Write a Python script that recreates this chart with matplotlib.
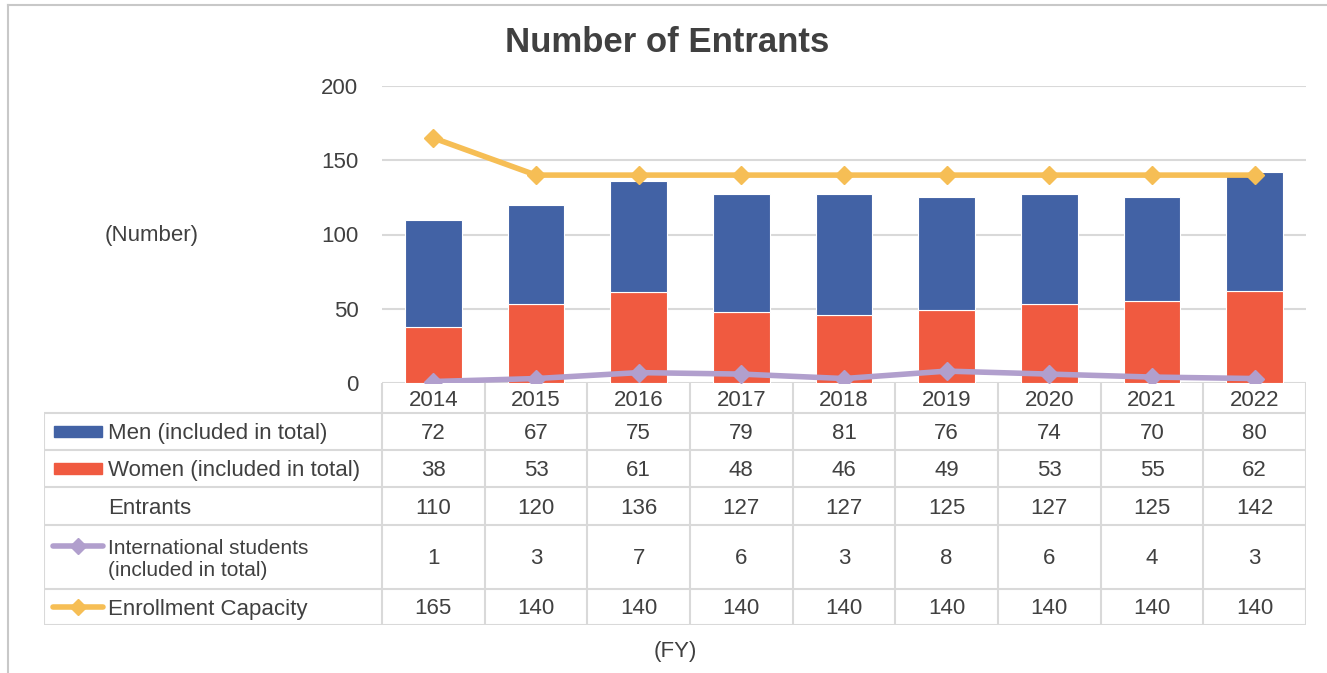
import matplotlib
matplotlib.use('Agg')
import matplotlib.pyplot as plt
from matplotlib.lines import Line2D
from matplotlib.patches import Rectangle

# ── data ─────────────────────────────────────────────────────────────────────
years = ['2014', '2015', '2016', '2017', '2018', '2019', '2020', '2021', '2022']
men = [72, 67, 75, 79, 81, 76, 74, 70, 80]
women = [38, 53, 61, 48, 46, 49, 53, 55, 62]
entrants = [110, 120, 136, 127, 127, 125, 127, 125, 142]
international = [1, 3, 7, 6, 3, 8, 6, 4, 3]
capacity = [165, 140, 140, 140, 140, 140, 140, 140, 140]
y_ticks = [0, 50, 100, 150, 200]

# ── palette ──────────────────────────────────────────────────────────────────
C_MEN = '#4262A5'
C_WOMEN = '#F05A40'
C_INTL = '#B19FCD'
C_CAP = '#F6BE55'
C_GRID = '#D9D9D9'
C_TEXT = '#404040'

FS = 16

plt.rcParams['font.family'] = ['Liberation Sans', 'DejaVu Sans']

W, H = 1327, 673
fig = plt.figure(figsize=(W / 100, H / 100), dpi=100)


def fx(px):
    return px / W


def fy(py):
    return 1 - py / H


# outer frame (top and left only)
fig.add_artist(Line2D([fx(8), 1], [fy(5), fy(5)], color='#C8C8C8', lw=1.5))
fig.add_artist(Line2D([fx(8), fx(8)], [fy(5), 0], color='#C8C8C8', lw=1.5))

# ── chart ────────────────────────────────────────────────────────────────────
left, right, top, bottom = 382, 1306, 86, 383
ax = fig.add_axes([fx(left), fy(bottom), fx(right) - fx(left), fy(top) - fy(bottom)])
x = range(len(years))
ax.bar(x, women, width=0.55, color=C_WOMEN, edgecolor='white', lw=0.8, zorder=2)
ax.bar(x, men, width=0.55, bottom=women, color=C_MEN, edgecolor='white', lw=0.8, zorder=2)
ax.plot(x, international, color=C_INTL, lw=4, marker='D', ms=9, zorder=3)
ax.plot(x, capacity, color=C_CAP, lw=4, marker='D', ms=9, zorder=3)

ax.set_xlim(-0.5, len(years) - 0.5)
ax.set_ylim(0, 200)
ax.set_yticks(y_ticks)
ax.grid(axis='y', color=C_GRID, lw=1.5, zorder=0)
ax.set_xticks([])
for s in ax.spines.values():
    s.set_visible(False)
ax.tick_params(axis='y', length=0, pad=17, labelsize=FS, labelcolor=C_TEXT)

fig.text(fx(667), fy(42), 'Number of Entrants', ha='center', va='center',
         fontsize=25, fontweight='bold', color=C_TEXT)
fig.text(fx(152), fy(236), '(Number)', ha='center', va='center', fontsize=FS, color=C_TEXT)
fig.text(fx(675), fy(651), '(FY)', ha='center', va='center', fontsize=FS, color=C_TEXT)

# ── data table ───────────────────────────────────────────────────────────────
tl, tr, tb = 44, 1306, 625
rows = [383, 413, 450, 487, 525, 589, 625]
tab = fig.add_axes([fx(tl), fy(tb), fx(tr) - fx(tl), fy(bottom) - fy(tb)])
tab.set_xlim(tl, tr)
tab.set_ylim(tb, bottom)
tab.axis('off')

col_w = (right - left) / len(years)
lc = dict(color=C_GRID, lw=1.5, solid_capstyle='butt')

# grid lines
for r in rows[1:]:
    tab.plot([tl, tr], [r, r], **lc)
tab.plot([tl, tl], [rows[1], tb], **lc)
for i in range(len(years) + 1):
    tab.plot([left + i * col_w] * 2, [bottom, tb], **lc)

# header row with the years
for i, yr in enumerate(years):
    tab.text(left + (i + 0.5) * col_w, (rows[0] + rows[1]) / 2 + 3, yr,
             ha='center', va='center', fontsize=FS, color=C_TEXT)

series = [men, women, entrants, international, capacity]
labels = ['Men (included in total)', 'Women (included in total)', 'Entrants',
          'International students\n(included in total)', 'Enrollment Capacity']
label_sizes = [FS, FS, FS, 15, FS]
for k, (vals, lab, fs) in enumerate(zip(series, labels, label_sizes)):
    yc = (rows[k + 1] + rows[k + 2]) / 2 + 2
    for i, v in enumerate(vals):
        tab.text(left + (i + 0.5) * col_w, yc, str(v), ha='center', va='center',
                 fontsize=FS, color=C_TEXT)
    tab.text(108, yc, lab, ha='left', va='center', fontsize=fs, color=C_TEXT,
             linespacing=1.2)

# legend keys
tab.add_patch(Rectangle((54, 426), 48, 11, color=C_MEN))
tab.add_patch(Rectangle((54, 463), 48, 11, color=C_WOMEN))
for yk, c in [(546, C_INTL), (607, C_CAP)]:
    tab.plot([53, 103], [yk, yk], color=c, lw=4, solid_capstyle='round')
    tab.plot([78], [yk], color=c, marker='D', ms=8)

fig.savefig('out.png', dpi=100, facecolor='white')
